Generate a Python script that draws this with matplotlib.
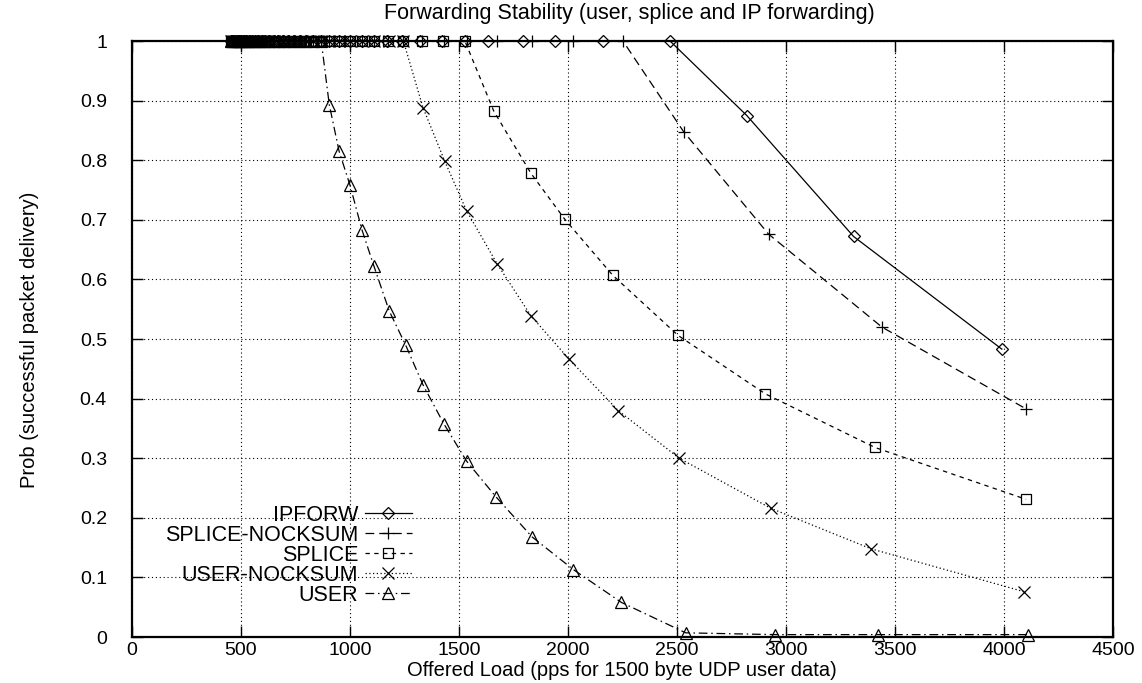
import matplotlib
matplotlib.use("Agg")
import matplotlib.pyplot as plt

plt.rcParams['font.family'] = ['Liberation Sans', 'DejaVu Sans']

# ---- data ----
# dense offered-load schedule where every variant still delivers everything
base_load = [452, 461, 470, 480, 490, 501, 512, 524, 537, 550, 564, 579,
             595, 612, 630, 650, 671, 693, 717, 742, 769, 798, 829, 868]

ipforw_x = base_load + [905, 950, 1000, 1055, 1110, 1170, 1238, 1321, 1422,
                        1527, 1633, 1794, 1940, 2161, 2468, 2820, 3310, 3990]
ipforw_y = [1.0] * (len(base_load) + 15) + [0.875, 0.672, 0.483]

splice_nock_x = base_load + [905, 950, 1000, 1055, 1110, 1175, 1245, 1330,
                             1430, 1535, 1674, 1835, 2023, 2252, 2530, 2920,
                             3440, 4100]
splice_nock_y = [1.0] * (len(base_load) + 14) + [0.848, 0.676, 0.520, 0.383]

splice_x = base_load + [905, 950, 1000, 1055, 1110, 1175, 1245, 1330, 1425,
                        1527, 1660, 1830, 1985, 2205, 2505, 2905, 3408, 4101]
splice_y = [1.0] * (len(base_load) + 10) + [0.882, 0.778, 0.701, 0.607, 0.506,
                                            0.408, 0.318, 0.231]

user_nock_x = base_load + [905, 950, 1000, 1055, 1110, 1180, 1245, 1335, 1435,
                           1535, 1675, 1830, 2005, 2230, 2510, 2930, 3390, 4092]
user_nock_y = [1.0] * (len(base_load) + 7) + [0.888, 0.798, 0.715, 0.626, 0.539,
                                              0.466, 0.380, 0.300, 0.216, 0.148,
                                              0.076]

user_x = base_load + [905, 950, 1000, 1055, 1110, 1180, 1255, 1335, 1430, 1535,
                      1670, 1835, 2025, 2245, 2540, 2950, 3422, 4110]
user_y = [1.0] * len(base_load) + [0.893, 0.815, 0.758, 0.683, 0.622, 0.547,
                                   0.490, 0.423, 0.358, 0.295, 0.235, 0.168,
                                   0.113, 0.058, 0.007, 0.004, 0.004, 0.004]

x_ticks = [0, 500, 1000, 1500, 2000, 2500, 3000, 3500, 4000, 4500]
y_ticks = [0, 0.1, 0.2, 0.3, 0.4, 0.5, 0.6, 0.7, 0.8, 0.9, 1]
y_tick_labels = ['0', '0.1', '0.2', '0.3', '0.4', '0.5', '0.6', '0.7', '0.8', '0.9', '1']

# ---- figure ----
W, H = 1142, 683
fig = plt.figure(figsize=(W / 100, H / 100), dpi=100)
ax = fig.add_axes([132 / W, 1 - 637 / H, (1113 - 132) / W, (637 - 41) / H])

lw = 0.9
mew = 0.9
common = dict(color='black', lw=lw, mew=mew, mfc='none', mec='black', clip_on=False)
ax.plot(ipforw_x, ipforw_y, ls='-', marker='D', ms=6, label='IPFORW', **common)
ax.plot(splice_nock_x, splice_nock_y, ls=(0, (7, 4)), marker='+', ms=9,
        label='SPLICE-NOCKSUM', **common)
ax.plot(splice_x, splice_y, ls=(0, (3.5, 3.5)), marker='s', ms=7.5,
        label='SPLICE', **common)
ax.plot(user_nock_x, user_nock_y, ls=(0, (1, 2)), marker='x', ms=8,
        label='USER-NOCKSUM', **common)
ax.plot(user_x, user_y, ls=(0, (7, 3, 1.2, 3)), marker='^', ms=8,
        label='USER', **common)

ax.set_xlim(0, 4500)
ax.set_ylim(0, 1)
ax.set_xticks(x_ticks)
ax.set_xticklabels([str(t) for t in x_ticks])
ax.set_yticks(y_ticks)
ax.set_yticklabels(y_tick_labels)
ax.tick_params(direction='in', length=8, width=1.0, top=True, right=True,
               labelsize=14)
ax.tick_params(axis='x', pad=3.5)
ax.tick_params(axis='y', pad=18)
ax.grid(True, color='black', ls=(0, (1, 2.5)), lw=0.8)
ax.set_axisbelow(True)
for s in ax.spines.values():
    s.set_linewidth(1.6)

fig.text(629 / W, 1 - 13 / H, 'Forwarding Stability (user, splice and IP forwarding)',
         ha='center', va='center', fontsize=15.5)
fig.text(622 / W, 1 - 671 / H, 'Offered Load (pps for 1500 byte UDP user data)',
         ha='center', va='center', fontsize=14.5)
fig.text(30 / W, 1 - 340 / H, 'Prob (successful packet delivery)',
         ha='center', va='center', rotation=90, fontsize=14.5)

leg = ax.legend(loc='upper right', bbox_to_anchor=(412 / W, 1 - 505 / H),
                bbox_transform=fig.transFigure, frameon=False, markerfirst=False,
                fontsize=15.5, handlelength=2.2, handletextpad=0.3,
                labelspacing=-0.05, borderpad=0, borderaxespad=0)

fig.savefig('out.png', dpi=100)
